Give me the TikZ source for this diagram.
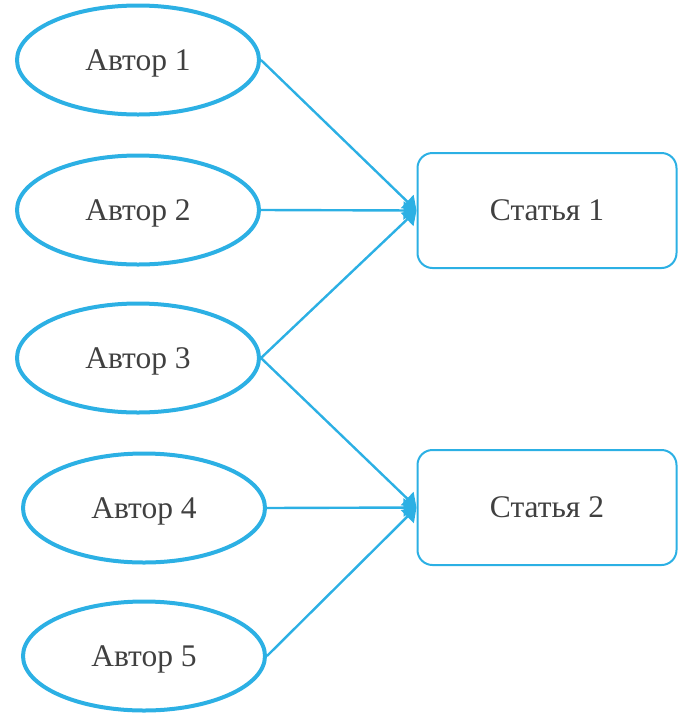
\documentclass[tikz,border=0pt]{standalone}
\usepackage{fontspec}
\newfontfamily\labelfont{Liberation Serif}
\usetikzlibrary{arrows.meta,shapes.geometric}
\definecolor{sky}{RGB}{44,176,228}
\definecolor{txt}{RGB}{64,64,64}
\begin{document}
\begin{tikzpicture}[x=1pt,y=-1pt,
  author/.style={ellipse,draw=sky,line width=4pt,minimum width=242pt,minimum height=109pt,inner sep=0pt,text depth=0pt,text=txt,font=\labelfont\fontsize{31.5}{36}\selectfont},
  paper/.style={rectangle,rounded corners=15pt,draw=sky,line width=2pt,minimum width=259pt,minimum height=115pt,inner sep=0pt,text depth=0pt,text=txt,font=\labelfont\fontsize{31.5}{36}\selectfont},
  link/.style={draw=sky,line width=2.4pt,-{Triangle[length=13pt,width=18pt]}}]
\useasboundingbox (0,0) rectangle (684,713);
\node[author] (a1) at (138,60) {Автор 1};
\node[author] (a2) at (138,210) {Автор 2};
\node[author] (a3) at (138,358) {Автор 3};
\node[author] (a4) at (144,508) {Автор 4};
\node[author] (a5) at (144,656) {Автор 5};
\node[paper] (s1) at (547,210.5) {Статья 1};
\node[paper] (s2) at (547,507.5) {Статья 2};
\draw[link] (a1.east) -- (s1.west);
\draw[link] (a2.east) -- (s1.west);
\draw[link] (a3.east) -- (s1.west);
\draw[link] (a3.east) -- (s2.west);
\draw[link] (a4.east) -- (s2.west);
\draw[link] (a5.east) -- (s2.west);
\end{tikzpicture}
\end{document}
